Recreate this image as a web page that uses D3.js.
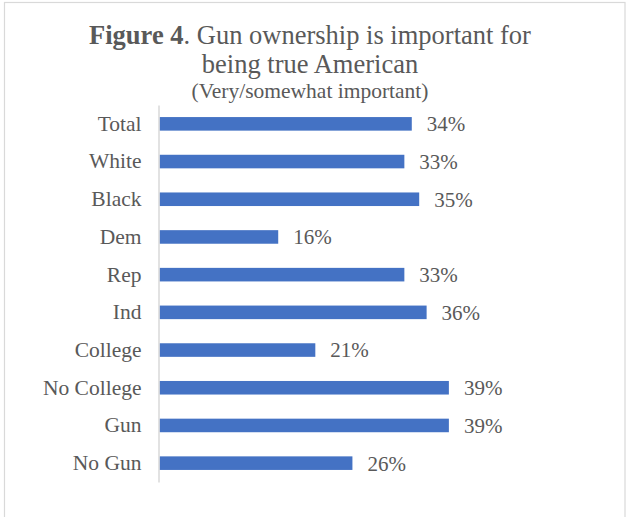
<!DOCTYPE html>
<html>
<head>
<meta charset="utf-8">
<script src="https://cdn.jsdelivr.net/npm/d3@7"></script>
<style>
  html, body { margin: 0; padding: 0; background: #fff; }
  svg { display: block; }
  text { font-family: "Liberation Serif", "Times New Roman", serif; fill: #595959; }
</style>
</head>
<body>
<svg id="chart" width="626" height="517"></svg>
<script>
// Share saying gun ownership is very/somewhat important for being a true American
const categories = ["Total", "White", "Black", "Dem", "Rep", "Ind", "College", "No College", "Gun", "No Gun"];
const values = [34, 33, 35, 16, 33, 36, 21, 39, 39, 26];
const valueLabels = ["34%", "33%", "35%", "16%", "33%", "36%", "21%", "39%", "39%", "26%"];

const svg = d3.select("#chart");

// outer frame
svg.append("rect")
  .attr("x", 4.5).attr("y", 2.5)
  .attr("width", 620.5).attr("height", 530)
  .attr("fill", "#fff")
  .attr("stroke", "#d9d9d9")
  .attr("stroke-width", 1.2);

// title block
const title = svg.append("text")
  .attr("x", 310).attr("y", 44)
  .attr("text-anchor", "middle")
  .style("font-size", "26.5px");
title.append("tspan").style("font-weight", "bold").text("Figure 4");
title.append("tspan").text(". Gun ownership is important for");

svg.append("text")
  .attr("x", 310).attr("y", 72.5)
  .attr("text-anchor", "middle")
  .style("font-size", "26.5px")
  .text("being true American");

svg.append("text")
  .attr("x", 310).attr("y", 97.5)
  .attr("text-anchor", "middle")
  .style("font-size", "21.5px")
  .text("(Very/somewhat important)");

// scales
const x0 = 159.5;
const x = d3.scaleLinear().domain([0, 50]).range([x0, x0 + 7.42 * 50]);
const y = d3.scaleBand().domain(categories).range([105, 482]).paddingInner(0.64).paddingOuter(0.32);

// bars
svg.append("g").selectAll("rect")
  .data(categories)
  .join("rect")
  .attr("x", x(0))
  .attr("y", d => y(d))
  .attr("width", (d, i) => x(values[i]) - x(0))
  .attr("height", y.bandwidth())
  .attr("fill", "#4472C4");

// value labels
svg.append("g").selectAll("text")
  .data(categories)
  .join("text")
  .attr("x", (d, i) => x(values[i]) + 15)
  .attr("y", d => y(d) + y.bandwidth() / 2)
  .attr("dy", "0.35em")
  .style("font-size", "21px")
  .text((d, i) => valueLabels[i]);

// category axis
const axis = svg.append("g")
  .attr("transform", `translate(${x0 - 1},0)`)
  .call(d3.axisLeft(y).tickSize(0).tickPadding(17));
axis.select(".domain").attr("stroke", "#d9d9d9").attr("stroke-width", 1.5);
axis.selectAll(".tick text")
  .attr("fill", "#595959")
  .style("font-family", "\"Liberation Serif\", \"Times New Roman\", serif")
  .style("font-size", "21.5px");
</script>
</body>
</html>
